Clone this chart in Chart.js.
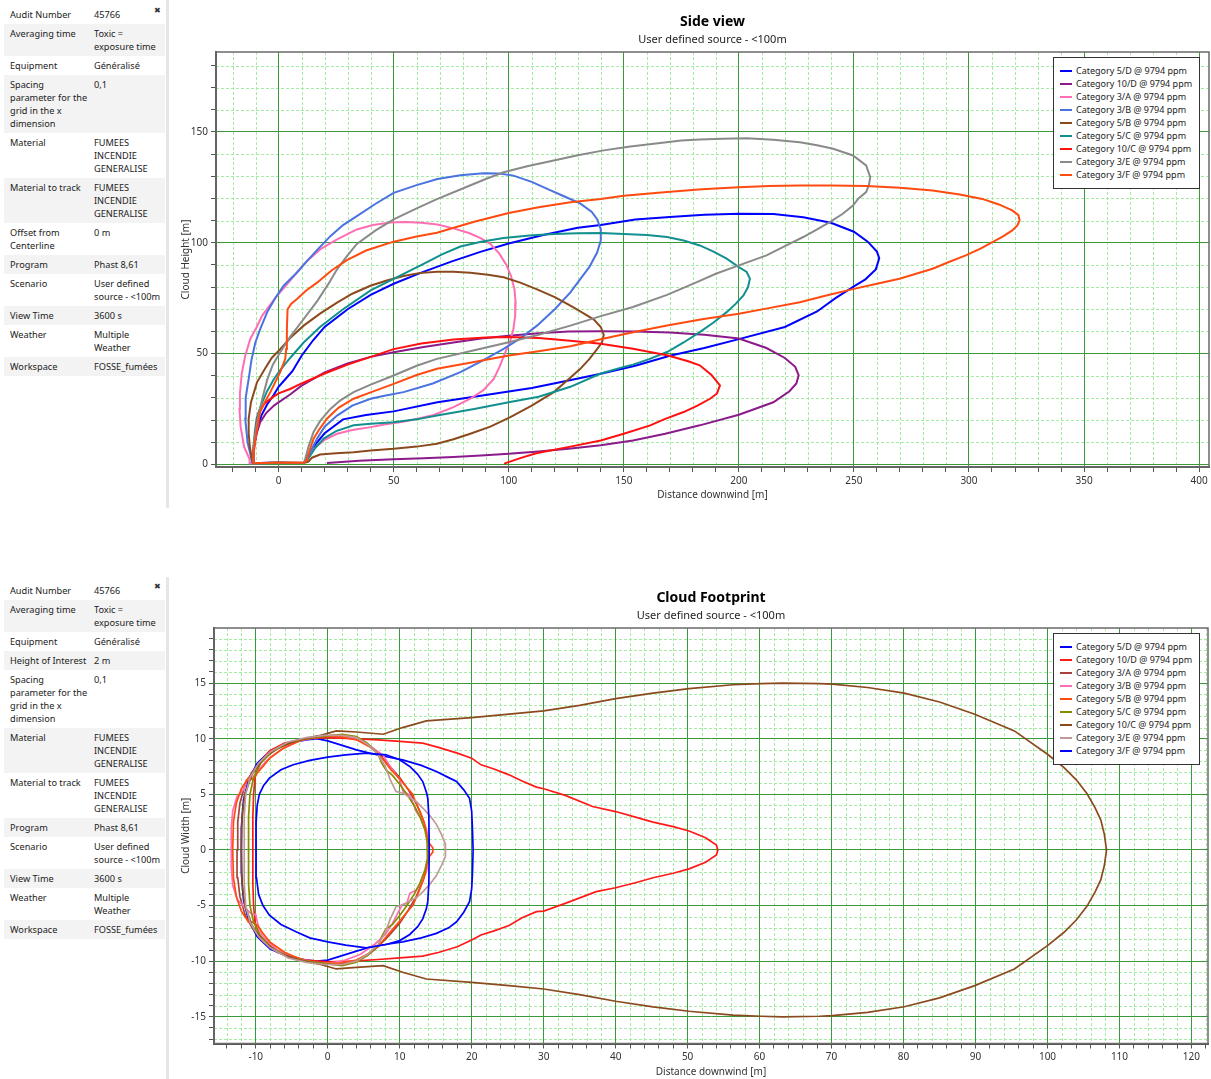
<!DOCTYPE html>
<html><head><meta charset="utf-8">
<script src="https://cdn.jsdelivr.net/npm/chart.js@4.4.1/dist/chart.umd.min.js"></script>
<style>
html,body{margin:0;padding:0;background:#fff;}
body{width:1211px;height:1079px;position:relative;overflow:hidden;font-family:"Noto Sans",sans-serif;color:#222;}
.panel{position:absolute;left:4px;width:161px;font-size:9.2px;}
.panel table{border-collapse:collapse;width:161px;table-layout:fixed;}
.panel td{vertical-align:top;padding:3px 0;line-height:13px;white-space:nowrap;overflow:hidden;}
.panel td.k{width:84px;padding-left:6px;}
.panel tr:nth-child(even) td{background:#f3f3f3;}
.sep{position:absolute;left:166px;width:3px;background:#e6e6e6;}
.close{position:absolute;left:154px;font-size:8px;color:#333;font-family:"DejaVu Sans",sans-serif;}
.chartbox{position:absolute;left:170px;}
.legend{position:absolute;left:1053px;width:145px;border:1px solid #333;background:#fff;font-size:9px;padding:6px 0 7px 0;}
.legend .it{height:13px;line-height:13px;white-space:nowrap;position:relative;padding-left:22px;color:#222;}
.legend .ln{position:absolute;left:6px;top:6px;width:12px;height:2px;}
</style>
</head><body>

<div class="panel" style="top:5px"><table id="tab1"></table></div>
<div class="close" style="top:6px">✖</div>
<div class="sep" style="top:0;height:508px"></div>
<div class="chartbox" style="top:2px"><canvas id="side" width="1041" height="510"></canvas></div>
<div class="legend" id="leg1" style="top:57px"></div>

<div class="panel" style="top:581px"><table id="tab2"></table></div>
<div class="close" style="top:582px">✖</div>
<div class="sep" style="top:577px;height:502px"></div>
<div class="chartbox" style="top:578px"><canvas id="foot" width="1041" height="503"></canvas></div>
<div class="legend" id="leg2" style="top:633px"></div>

<script>
// ---------------- info panels ----------------
const infoSide = [
  ["Audit Number","45766"],
  ["Averaging time","Toxic =\nexposure time"],
  ["Equipment","Généralisé"],
  ["Spacing\nparameter for the\ngrid in the x\ndimension","0,1"],
  ["Material","FUMEES\nINCENDIE\nGENERALISE"],
  ["Material to track","FUMEES\nINCENDIE\nGENERALISE"],
  ["Offset from\nCenterline","0 m"],
  ["Program","Phast 8,61"],
  ["Scenario","User defined\nsource - <100m"],
  ["View Time","3600 s"],
  ["Weather","Multiple\nWeather"],
  ["Workspace","FOSSE_fumées"]
];
const infoFoot = [
  ["Audit Number","45766"],
  ["Averaging time","Toxic =\nexposure time"],
  ["Equipment","Généralisé"],
  ["Height of Interest","2 m"],
  ["Spacing\nparameter for the\ngrid in the x\ndimension","0,1"],
  ["Material","FUMEES\nINCENDIE\nGENERALISE"],
  ["Material to track","FUMEES\nINCENDIE\nGENERALISE"],
  ["Program","Phast 8,61"],
  ["Scenario","User defined\nsource - <100m"],
  ["View Time","3600 s"],
  ["Weather","Multiple\nWeather"],
  ["Workspace","FOSSE_fumées"]
];

// ---------------- legend categories ----------------
const categories = ["Category 5/D @ 9794 ppm","Category 10/D @ 9794 ppm","Category 3/A @ 9794 ppm","Category 3/B @ 9794 ppm","Category 5/B @ 9794 ppm","Category 5/C @ 9794 ppm","Category 10/C @ 9794 ppm","Category 3/E @ 9794 ppm","Category 3/F @ 9794 ppm"];
const sideColors = ["#0000ff","#8b1a8b","#ff6eb4","#4a72e0","#8b4a1e","#129090","#ff1010","#8a8a8a","#ff4a10"];
const footColors = ["#0000ff","#ff1a1a","#a84040","#ff6eb4","#ff4a10","#8a8a00","#8b4a1e","#c09898","#0000ff"];

// ---------------- side view: [distance, height] ----------------
const side_5D = [[-11,0.5],[-11,2],[-10.8,6],[-10.2,11],[-9,17],[-7.5,22],[-5,27],[-2,31.5],[0,35],[3,38.5],[6,42],[10,49],[15,56],[20,62],[30,70],[40,76.5],[50,81.5],[62,86.5],[75,91.5],[88,96],[100,99.7],[115,103.5],[130,106.8],[140,108],[155,110.5],[170,111.6],[185,112.6],[200,113.1],[215,113],[228,111.5],[240,109],[250,105],[256,100.5],[260,96],[261,93],[259.5,88],[255,83.5],[250,80.3],[242,75],[234,69],[220,62],[200,56.5],[185,52.5],[170,49],[155,44.5],[140,40.9],[126,37.8],[110,34.5],[100,32.9],[85,30.5],[69,28],[50,23.9],[38,22.3],[28,20.3],[20,14],[16,9],[13,4.5],[12,1.5],[11,0.7],[5,0.6],[0,0.8],[-5,0.7],[-11,0.5]];
const side_10D = [[-11,0.5],[-11,2],[-10.6,8],[-9.5,14],[-8,19],[-5.5,23],[-2,26.5],[0,28],[5,31.5],[10,35.5],[20,41.5],[30,45.5],[40,48.5],[50,50.6],[63,53],[76,55],[88,56.8],[100,58],[113,59.2],[126,59.9],[140,60.1],[155,60],[170,59.5],[185,58.5],[200,56.8],[212,52.5],[220,48],[224.5,44],[226,40.2],[225,36.5],[222,33],[215,28],[200,22.4],[183,17.6],[168,13.8],[154,10.8],[140,8.6],[127,7.1],[113,5.8],[100,4.8],[88,4],[76,3.3],[63,2.8],[50,2.3],[35,1.6],[21,0.6]];
const side_3A = [[-12.5,0.5],[-12.6,2.3],[-15,8],[-16.5,17],[-17,25],[-16.8,32],[-16,41],[-14.5,49],[-12.3,56.6],[-9.5,62],[-7.2,67],[-4,71.5],[-0.7,76],[3,80.5],[8,86.6],[12.3,91.7],[18,97],[25.4,101.5],[34,106],[41,108],[48.6,109.2],[55,109.4],[62,109],[69,108.2],[76,106.5],[83,104.3],[88,102],[92,99.5],[96,95],[99,90],[101,85],[102.5,79],[103,73],[102.8,67],[102,61],[100.5,55],[98.5,50.5],[96,44],[93.5,38.6],[89,33.5],[83.3,29.6],[76,25.8],[67.4,22.3],[60,20.5],[54,19.2],[46,18],[40,16.8],[32,15.5],[25.4,13.8],[20,11],[15.2,7],[12.3,1.8],[11,0.8],[0,0.7],[-12.5,0.5]];
const side_3B = [[-11.5,0.5],[-11.8,2.5],[-13.5,10],[-14.5,20.6],[-14.3,30],[-13,38.6],[-11.8,47],[-10.1,55],[-8,61],[-5,68.6],[-1.5,75],[2.2,80.6],[8,86.6],[12.3,91.7],[17,97],[22.5,103],[28,108],[34,112],[42,117.5],[50,122.5],[60,126],[69,128.8],[79,130.5],[89,131.4],[96,131.3],[102,130.3],[110,127.5],[117,124.2],[124,121],[131,117.8],[136,114],[138.5,110.5],[140,106],[140,101],[138.4,95.6],[135,89],[131,83.5],[126.8,77.6],[120,70],[112.3,62.6],[105,56.8],[97.8,52.1],[88,46.5],[79,41.6],[67,36.5],[54.3,32.6],[46,31],[40,29.6],[32,26.5],[25.4,22],[20,17],[16.7,11.6],[14,6],[12.3,2.6],[11,0.7],[0,0.6],[-11.5,0.5]];
const side_5B = [[-11,0.5],[-11.5,2],[-12.5,8],[-13,14],[-13,20.6],[-12,28],[-9.4,37],[-6,43],[-3,48],[0.7,52],[5,57],[10.9,62.6],[18,68],[25.4,73],[32,77],[39.9,80.6],[47,83],[54.3,85],[61,86.3],[68.8,86.9],[76,86.9],[83.3,86.5],[91,85.6],[97.8,84.4],[105,82],[112.3,79],[120,75.5],[126.8,71.6],[132,68.5],[137,65.3],[140,62],[141.3,58.5],[140.5,55],[138.4,52],[135,47.5],[131,43],[125,37.5],[119.6,32.6],[110,26.5],[100.7,21.3],[92,17],[83.3,13.8],[76,11.3],[68.8,9.3],[60,8],[50,7],[40,6.3],[32.6,5.5],[25,5],[18,4.4],[14.5,3],[13,1.2],[11,0.6],[0,0.7],[-11,0.5]];
const side_5C = [[-11,0.5],[-11,2],[-10.8,8],[-10.3,15],[-9.5,21],[-7.5,27],[-5,33],[-2,38.5],[0.7,42.5],[5,48],[10.9,55],[18,62],[28,70],[40,78.5],[54.3,86],[63,90.5],[71,94.8],[79,98.3],[88,100.5],[97.8,102.2],[109,103.3],[119.6,104],[130,104.3],[140,104.4],[150,104],[160,103.5],[168.8,102.6],[176,101],[183,98.8],[189,96],[194.7,92.8],[200,89],[203.4,86.8],[204.8,83.8],[204,80],[202,76.2],[198.5,72.3],[194.7,68.7],[189,64],[183,59.7],[176,55],[168.8,50.7],[161,47.5],[154,45],[150,44],[140,41],[126.8,35],[113,30.5],[100,28],[85,25],[68.8,22],[60,20.3],[50,19],[40,18.3],[32.6,17.6],[25,15],[19.6,11.6],[16,7.5],[13.8,4],[12.3,1.8],[11,0.6],[0,0.7],[-11,0.5]];
const side_10C = [[-11,0.5],[-11,2],[-10.8,7],[-10.2,13],[-9.5,19],[-8.5,24],[-6,27.5],[-3,30],[0,32],[5,34],[10,36.5],[20,41],[30,45],[40,48.5],[50,52],[62,54.5],[76,56.3],[90,57.3],[100,57.5],[113,57],[126.8,55.8],[140,54.4],[154,52.2],[168.8,49.2],[178,46.5],[183,44.7],[188,40.5],[191.8,35.6],[190.5,32],[187.5,29.6],[182,26.5],[176,23.6],[168,20.5],[161.5,17.6],[150,13.8],[140,10.8],[126.8,8],[112,5],[105,2.8],[98,0.3]];
const side_3E = [[-11,0.5],[-11,2],[-10.8,8],[-10,15],[-8.8,22],[-7,30],[-5,38],[-2.5,45],[0.7,50.6],[5,57.5],[10.9,65.6],[17,74],[22,82],[25.4,88],[29.7,94],[34,99.5],[42,105.5],[50,110.6],[60,115.5],[68.8,119.7],[80,124.5],[90,128.8],[97.8,131.8],[108,134.5],[119.6,137.1],[130,139.5],[141.3,141.7],[152,143.3],[164,144.8],[175,146.2],[183,146.6],[193,147],[203.4,147.2],[215,146.5],[226.5,145.4],[234,144],[241,142.4],[249.6,139.4],[255.3,134.9],[257.1,129.6],[256.5,126],[255.3,122.9],[252,120],[249.6,116.8],[245,113],[239.5,109.3],[234,106],[228,102.6],[220,98.5],[212,94.3],[200,89.8],[190,86],[183,82.8],[168.8,76.5],[154,71],[140,66.9],[126.8,62.6],[113,58.5],[100,55.1],[85,51.5],[68.8,47.6],[60,44.5],[50,40.1],[40,36],[32.6,32.6],[27,29],[22.5,25],[18,19.5],[15.2,14.6],[13,8],[11.6,2.6],[11,0.7],[0,0.7],[-11,0.5]];
const side_3F = [[-11,0.5],[-11,2],[-10.5,8],[-9.5,15],[-8,23.6],[-6,28],[-3.6,32.6],[-1.5,37],[0.7,41.6],[2.9,47.6],[3.3,52],[3.6,61],[3.9,70],[5.5,72.5],[8,74.6],[12,78.5],[16.7,82],[23,87.5],[29.7,92.2],[38,96.5],[50,100.5],[60,102.8],[68.8,104.5],[85,109.5],[100,113.4],[113,116],[126.8,118.3],[140,119.8],[150,121.2],[168.8,122.9],[184,124.2],[200,125.1],[213,125.6],[226.5,125.9],[240,125.9],[255.3,125.6],[270,124.8],[284.2,123.6],[296,121.8],[305.8,119.8],[313,117.3],[318.8,114.6],[321.5,112.5],[322,110.1],[321,107.8],[318.8,105.6],[315,103],[310.2,100.3],[305,97.4],[298.6,94.3],[291,91.2],[284.2,88.3],[277,86],[269.8,83.8],[260,81.5],[250,79.2],[238,76.2],[226.5,73.2],[213,70.5],[200,68],[184,65.5],[168.8,62.7],[154,59.6],[140,56.5],[126.8,53.3],[113,51],[100,49.1],[85,46.2],[68.8,43.1],[60,40.3],[50,36.3],[40,32.5],[32.6,29.6],[26,25.5],[21,20.6],[17.5,15.5],[15.2,11.6],[13.5,6.5],[12.3,1.8],[11,0.7],[0,0.8],[-11,0.5]];

// ---------------- cloud footprint: [distance, width] ----------------
const foot_5D = [[-12,0],[-12,2],[-11.7,4.5],[-11,6.3],[-9.8,7.8],[-8,8.9],[-5.5,9.6],[-3,9.9],[-1.5,10],[0,9.8],[2,9.4],[4,9],[5.8,8.7],[8,8.4],[10.4,8.1],[13,7.6],[15.1,7.05],[16.8,6.5],[17.9,6.15],[18.9,5.4],[19.7,4.65],[20,3.5],[20.1,2],[20.2,0],[20.1,-2.25],[20,-3.5],[19.7,-4.66],[18.9,-5.6],[17.9,-6.46],[16.8,-7],[15.1,-7.5],[13,-7.9],[10.4,-8.26],[8,-8.5],[5.8,-8.75],[4,-9.1],[2,-9.5],[0,-9.9],[-1.5,-10],[-3,-9.9],[-5.5,-9.6],[-8,-8.9],[-9.8,-7.8],[-11,-6.3],[-11.7,-4.5],[-12,-2],[-12,0]];
const foot_10D = [[-10.4,0],[-10.4,3],[-10.3,5],[-10.1,6.5],[-9.5,7.8],[-8.1,8.9],[-6,9.6],[-3,10],[0,10.1],[3.5,10],[7,9.9],[10,9.75],[13.2,9.6],[15.5,9.2],[18,8.7],[20,8.25],[21.3,7.65],[23,7.3],[25.2,6.75],[27,6.2],[29,5.65],[30,5.5],[33,4.9],[36.8,3.9],[40,3.45],[43,2.9],[45.2,2.5],[48,2.1],[50.2,1.7],[52.5,1.1],[54,0.45],[54.2,0],[54,-0.45],[52.5,-1.1],[50.2,-1.7],[48,-2.1],[45.2,-2.5],[43,-2.9],[40,-3.4],[37.3,-3.75],[33,-4.8],[30,-5.5],[29,-5.55],[27,-6.1],[25.2,-6.8],[23,-7.3],[21.3,-7.65],[20,-8.1],[18,-8.7],[15.5,-9.2],[13.2,-9.55],[10,-9.7],[7,-9.85],[3.5,-10],[0,-10.06],[-3,-9.9],[-6,-9.4],[-8.1,-8.6],[-9.5,-7.6],[-10.1,-6.5],[-10.3,-5],[-10.4,-3],[-10.4,0]];
const foot_3A = [[-12.6,0],[-12.5,2.5],[-12.2,4.2],[-11.5,5.8],[-10.5,7],[-9,8.2],[-7,9.1],[-4.5,9.8],[-1.5,10.2],[1,10.3],[3.5,10.1],[5.5,9.5],[7,8.7],[8.5,7.6],[10,6.5],[11.2,5.4],[12.3,4.2],[13.2,2.8],[13.8,1.4],[14,0],[13.8,-1.4],[13.2,-2.8],[12.3,-4.2],[11.2,-5.4],[10,-6.6],[8.5,-7.7],[7,-8.7],[5.5,-9.5],[3.5,-10.1],[1,-10.3],[-1.5,-10.2],[-4.5,-9.8],[-7,-9.1],[-9,-8.2],[-10.5,-7],[-11.5,-5.8],[-12.2,-4.2],[-12.5,-2.5],[-12.6,0]];
const foot_3B = [[-13.4,0],[-13.4,2],[-13.2,3.5],[-12.6,4.8],[-11.6,5.5],[-11.3,6.3],[-10.4,6.5],[-9.6,7.2],[-8.5,8],[-6.5,9],[-4,9.8],[-1,10.2],[1.5,10.3],[4,10],[6,9.3],[7.7,8.5],[9,7.2],[10,6.3],[10.5,5.2],[11.3,5],[11.8,4.3],[12.3,3.45],[13,2.8],[13.7,1.95],[14,1],[14.1,0],[14,-1],[13.7,-2],[13,-2.9],[12.3,-3.6],[11.4,-3.9],[11,-4.8],[10.4,-4.9],[9.8,-5.6],[9,-6.6],[8,-7.6],[6.5,-8.5],[4.5,-9.4],[2,-10],[0,-10.2],[-2,-10.1],[-4.5,-9.7],[-7,-9],[-9,-7.8],[-9.6,-7],[-10,-5.8],[-10.5,-5.8],[-11.5,-5.2],[-12.5,-4.5],[-13.2,-3.2],[-13.4,-1.5],[-13.4,0]];
const foot_5B = [[-13.2,0],[-13.1,2.5],[-12.7,4.2],[-12,5.5],[-11,6.5],[-10.4,6.3],[-9.7,7],[-9,7.5],[-8,8.3],[-6,9.2],[-3.5,9.9],[-1,10.2],[1.5,10.2],[4,9.9],[6,9.2],[7.5,8.3],[8.8,7.2],[10,6.4],[11,5.6],[11.8,5],[12.2,4.3],[12.8,3.5],[13.4,2.5],[13.8,1.2],[14.1,0.6],[14.6,0.2],[14.6,-0.2],[14.1,-0.6],[13.8,-1.2],[13.4,-2.5],[12.8,-3.5],[12.3,-4.3],[11.8,-5],[11,-5.6],[10,-6.4],[8.8,-7.3],[7.5,-8.3],[6,-9.2],[4,-9.9],[1.5,-10.2],[-1,-10.2],[-3.5,-9.9],[-6,-9.2],[-8,-8.3],[-9,-7.5],[-9.7,-6.8],[-10.4,-6.5],[-11,-6.5],[-12,-5.5],[-12.7,-4.2],[-13.1,-2.5],[-13.2,0]];
const foot_5C = [[-11,0],[-11,3],[-10.8,5],[-10.3,6.5],[-9.3,7.8],[-7.8,8.8],[-5.5,9.6],[-3,10],[-0.5,10.2],[2,10.4],[4,10.2],[5.5,9.6],[7,8.6],[7.5,7.8],[8.1,7.2],[9,6.7],[10,5.9],[11,5],[12,4],[12.8,3],[13.5,1.8],[13.8,0.8],[13.9,0],[13.8,-0.8],[13.5,-1.8],[12.8,-3],[12,-4],[11,-5],[10,-5.9],[9,-6.7],[8.1,-7.1],[7.5,-7.8],[7,-8.6],[5.5,-9.5],[4,-10.1],[2,-10.4],[-0.5,-10.2],[-3,-10],[-5.5,-9.6],[-7.8,-8.8],[-9.3,-7.8],[-10.3,-6.5],[-10.8,-5],[-11,-3],[-11,0]];
const foot_10C = [[-12,0],[-11.9,3],[-11.5,5],[-10.5,6.8],[-9,8.2],[-7,9.2],[-4,9.9],[-1,10.3],[1.2,10.7],[4,10.6],[7.7,10.4],[10.4,11],[13.7,11.6],[20,11.9],[25.2,12.2],[30,12.5],[35,13],[40,13.6],[45.2,14.1],[50.2,14.5],[56.3,14.85],[60.2,14.95],[63.2,15],[68.3,14.95],[70.1,14.9],[75,14.6],[80.1,14.1],[85,13.3],[89.9,12.2],[95.4,10.7],[100,8.6],[102.3,7.4],[104,6.3],[105.5,5.05],[106.6,3.8],[107.4,2.7],[107.9,1.4],[108.2,0],[107.9,-1.4],[107.4,-2.7],[106.6,-3.8],[105.5,-5.05],[104,-6.3],[102.3,-7.4],[100,-8.6],[95.4,-10.7],[89.9,-12.2],[85,-13.3],[80.1,-14.1],[75,-14.6],[70.1,-14.9],[68.3,-14.95],[63.2,-15],[60.2,-14.95],[56.3,-14.85],[50.2,-14.5],[45.2,-14.1],[40,-13.6],[35,-13],[30,-12.5],[25.2,-12.2],[20,-11.9],[13.7,-11.6],[10.4,-11],[7.7,-10.4],[4,-10.55],[1.2,-10.7],[-1,-10.3],[-4,-9.9],[-7,-9.2],[-9,-8.2],[-10.5,-6.8],[-11.5,-5],[-11.9,-3],[-12,0]];
const foot_3E = [[-11.6,0],[-11.6,3],[-11.4,5],[-10.8,6.5],[-9.6,7.8],[-8,8.8],[-5.5,9.7],[-3,10.1],[-0.5,10.3],[2,10.3],[4,10.1],[5.5,9.5],[7,8.6],[8,7.5],[8.7,6.3],[9.5,5.25],[10.5,5.1],[11.4,4.7],[12.3,4.35],[13.3,3.7],[14.3,3],[15.1,2.3],[15.8,1.4],[16.3,0.6],[16.4,0],[16.3,-0.6],[15.8,-1.4],[15.1,-2.3],[14.3,-3],[13.3,-3.7],[12.3,-4.3],[11.4,-4.6],[10.5,-4.9],[9.5,-5.1],[8.7,-6.2],[8,-7.4],[7,-8.5],[5.5,-9.4],[4,-10],[2,-10.3],[-0.5,-10.3],[-3,-10.1],[-5.5,-9.7],[-8,-8.8],[-9.6,-7.8],[-10.8,-6.5],[-11.4,-5],[-11.6,-3],[-11.6,0]];
const foot_3F = [[-9.95,0],[-9.95,2.5],[-9.8,4],[-9.5,5],[-8.9,5.8],[-8.1,6.45],[-6.5,7.2],[-4.8,7.66],[-2.5,8.05],[0,8.35],[2.5,8.55],[5.35,8.7],[8.1,8.55],[10,8.1],[11.4,7.5],[12.5,6.8],[13.2,6.15],[13.7,5.2],[13.9,4.65],[14.05,3],[14.1,0],[14.05,-3],[13.9,-4.65],[13.7,-5.3],[13.2,-6.2],[12.5,-6.9],[11.4,-7.6],[10,-8.15],[8.1,-8.5],[5.35,-8.8],[2.5,-8.55],[0,-8.26],[-2.5,-7.9],[-4.4,-7.36],[-6.5,-6.7],[-8.1,-5.86],[-9,-5],[-9.6,-4],[-9.9,-2.5],[-9.95,0]];

const sideSeries = [side_5D, side_10D, side_3A, side_3B, side_5B, side_5C, side_10C, side_3E, side_3F];
const footSeries = [foot_5D, foot_10D, foot_3A, foot_3B, foot_5B, foot_5C, foot_10C, foot_3E, foot_3F];

// axis ranges
const sideXRange = [-27.2, 404.3], sideYRange = [-1.2, 186.1];
const footXRange = [-15.8, 122.3], footYRange = [-17.4, 19.95];

// ---------------- build panels ----------------
function fillTable(id, rows){
  const t = document.getElementById(id);
  rows.forEach(([k,v])=>{
    const tr = document.createElement('tr');
    const a = document.createElement('td'); a.className='k';
    k.split('\n').forEach((s,i)=>{ if(i) a.appendChild(document.createElement('br')); a.appendChild(document.createTextNode(s)); });
    const b = document.createElement('td'); b.className='v';
    v.split('\n').forEach((s,i)=>{ if(i) b.appendChild(document.createElement('br')); b.appendChild(document.createTextNode(s)); });
    tr.appendChild(a); tr.appendChild(b); t.appendChild(tr);
  });
}
fillTable('tab1', infoSide);
fillTable('tab2', infoFoot);

function fillLegend(id, colors){
  const l = document.getElementById(id);
  categories.forEach((c,i)=>{
    const d = document.createElement('div'); d.className='it';
    const s = document.createElement('span'); s.className='ln'; s.style.background=colors[i];
    d.appendChild(s); d.appendChild(document.createTextNode(c)); l.appendChild(d);
  });
}
fillLegend('leg1', sideColors);
fillLegend('leg2', footColors);

// ---------------- charts ----------------
function isMajor(v, m){ const r = v/m; return Math.abs(r-Math.round(r)) < 1e-6; }

const gridPlugin = {
  id:'minorGrid',
  beforeDraw(chart, args, o){
    const {ctx, chartArea:a, scales:{x,y}} = chart;
    ctx.save();
    ctx.beginPath(); ctx.rect(a.left,a.top,a.right-a.left,a.bottom-a.top); ctx.clip();
    ctx.strokeStyle = '#a4eba4'; ctx.lineWidth = 1; ctx.setLineDash([3,2]);
    x.ticks.forEach(t=>{ if(!isMajor(t.value,o.xMajor)){ const p=Math.round(x.getPixelForValue(t.value))+0.5; ctx.beginPath(); ctx.moveTo(p,a.top); ctx.lineTo(p,a.bottom); ctx.stroke(); }});
    y.ticks.forEach(t=>{ if(!isMajor(t.value,o.yMajor)){ const p=Math.round(y.getPixelForValue(t.value))+0.5; ctx.beginPath(); ctx.moveTo(a.left,p); ctx.lineTo(a.right,p); ctx.stroke(); }});
    ctx.restore();
  },
  afterDatasetsDraw(chart){
    const {ctx, chartArea:a} = chart;
    ctx.save(); ctx.strokeStyle='#6a6a6a'; ctx.lineWidth=1.5;
    ctx.strokeRect(a.left, a.top, a.right-a.left, a.bottom-a.top);
    ctx.restore();
  }
};

function build(canvasId, series, colors, cfg){
  const datasets = series.map((pts,i)=>({
    label: categories[i],
    data: pts.map(p=>({x:p[0], y:p[1]})),
    showLine:true, borderColor:colors[i], backgroundColor:colors[i],
    borderWidth:cfg.lw, pointRadius:0, fill:false, tension:0, order:-i
  }));
  const tickFont = {family:'Noto Sans', size:10};
  return new Chart(document.getElementById(canvasId), {
    type:'scatter',
    data:{datasets},
    plugins:[gridPlugin],
    options:{
      responsive:false, animation:false, devicePixelRatio:1,
      layout:{padding:{left:0,right:cfg.padRight,top:0,bottom:0}},
      plugins:{
        legend:{display:false}, tooltip:{enabled:false},
        title:{display:true,text:cfg.title,fullSize:false,color:'#000',font:{family:'Noto Sans',size:14,weight:'bold'},padding:{top:12,bottom:2}},
        subtitle:{display:true,text:'User defined source - <100m',fullSize:false,color:'#222',font:{family:'Noto Sans',size:11},padding:{top:0,bottom:6}},
        minorGrid:{xMajor:cfg.xMajor, yMajor:cfg.yMajor}
      },
      scales:{
        x:{type:'linear', min:cfg.xr[0], max:cfg.xr[1],
          afterFit:s=>{s.height=cfg.xh;},
          ticks:{stepSize:cfg.xMinor, autoSkip:false, includeBounds:false, maxRotation:0, color:'#333', font:tickFont, padding:3,
            callback:v=>isMajor(v,cfg.xMajor)?String(Math.round(v)):''},
          grid:{color:c=>(c.tick&&isMajor(c.tick.value,cfg.xMajor))?'#3a9a3a':'rgba(0,0,0,0)', lineWidth:1, tickColor:'#555', tickLength:5},
          border:{color:'#555', width:2},
          title:{display:true,text:'Distance downwind [m]',color:'#333',font:tickFont,padding:{top:0,bottom:cfg.xtPad}}
        },
        y:{type:'linear', min:cfg.yr[0], max:cfg.yr[1],
          afterFit:s=>{s.width=cfg.yw;},
          ticks:{stepSize:cfg.yMinor, autoSkip:false, includeBounds:false, color:'#333', font:tickFont, padding:3,
            callback:v=>isMajor(v,cfg.yMajor)?String(Math.round(v)):''},
          grid:{color:c=>(c.tick&&isMajor(c.tick.value,cfg.yMajor))?'#3a9a3a':'rgba(0,0,0,0)', lineWidth:1, tickColor:'#555', tickLength:5},
          border:{color:'#555', width:2},
          title:{display:true,text:cfg.yTitle,color:'#333',font:tickFont,padding:{top:10,bottom:0}}
        }
      }
    }
  });
}

build('side', sideSeries, sideColors, {title:'Side view', yTitle:'Cloud Height [m]', xr:sideXRange, yr:sideYRange,
  xMinor:10, xMajor:50, yMinor:10, yMajor:50, xh:45, yw:46, padRight:2, xtPad:11, lw:2});
build('foot', footSeries, footColors, {title:'Cloud Footprint', yTitle:'Cloud Width [m]', xr:footXRange, yr:footYRange,
  xMinor:2, xMajor:10, yMinor:1, yMajor:5, xh:37.5, yw:44, padRight:3, xtPad:3, lw:1.7});
</script>
</body></html>
